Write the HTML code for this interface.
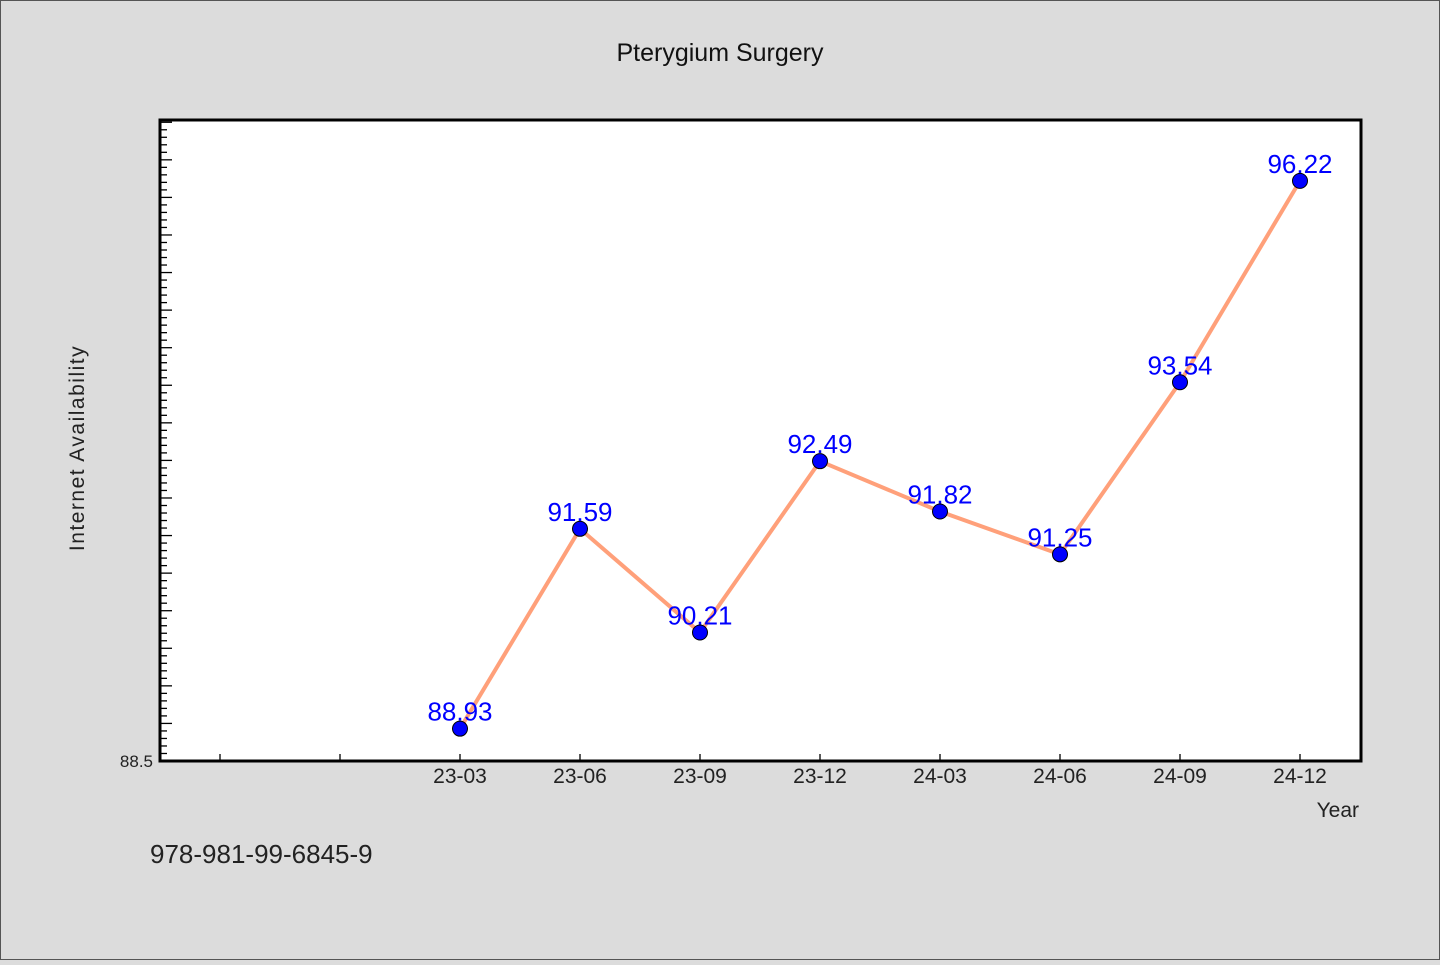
<!DOCTYPE html>
<html><head><meta charset="utf-8"><style>
body{margin:0;background:#dcdcdc}
svg text{font-family:"WenQuanYi Zen Hei","Liberation Sans",sans-serif}
</style></head><body>
<svg id="chart" width="1440" height="960" xmlns="http://www.w3.org/2000/svg">
<rect x="0.5" y="0.5" width="1439" height="959" fill="#dcdcdc" stroke="#555"/>
<text x="720" y="61" text-anchor="middle" font-size="25" fill="#111">Pterygium Surgery</text>
<rect x="160" y="120" width="1201" height="641" fill="#fff"/>
<g id="ticks"></g>
<g id="series"></g>
<rect x="160" y="120" width="1201" height="641" fill="none" stroke="#000" stroke-width="3"/>
<text x="84" y="448" text-anchor="middle" font-size="21" fill="#222" transform="rotate(-90 84 448)" letter-spacing="1.5">Internet Availability</text>
<text x="1359" y="817" text-anchor="end" font-size="21" fill="#222">Year</text>
<text x="150" y="863" font-size="26" fill="#222">978-981-99-6845-9</text>
</svg>
<script>
const categories=["","","23-03","23-06","23-09","23-12","24-03","24-06","24-09","24-12"];
const values=[null,null,88.93,91.59,90.21,92.49,91.82,91.25,93.54,96.22];
const yTickLabels=["88.5"];
const yMin=88.5,yMax=97.03;
const NS="http://www.w3.org/2000/svg";
const x=i=>220+120*i;
const y=v=>761-(v-yMin)/(yMax-yMin)*641;
function mk(t,a,p){const e=document.createElementNS(NS,t);for(const k in a)e.setAttribute(k,a[k]);p.appendChild(e);return e;}
const tg=document.getElementById('ticks'),sg=document.getElementById('series');
for(let k=1;k<=85;k++){const v=yMin+k*0.1;if(v>yMax)break;const yy=y(v);const major=k%5===0;
 const l=mk('line',{x1:160,x2:major?172:167,y1:yy,y2:yy,stroke:'#000','stroke-width':1.3},tg);
 
 }
yTickLabels.forEach(s=>{const t=mk('text',{x:153,y:y(+s)+6,'text-anchor':'end','font-size':17,fill:'#222'},tg);t.textContent=s;
 
 });
categories.forEach((c,i)=>{const l=mk('line',{x1:x(i),x2:x(i),y1:761,y2:754,stroke:'#000','stroke-width':1.3},tg);
 
 
 if(c){const t=mk('text',{x:x(i),y:783,'text-anchor':'middle','font-size':21,fill:'#222'},tg);t.textContent=c;
 
 }});
let pts=[];values.forEach((v,i)=>{if(v!=null)pts.push(x(i)+','+y(v));});
const pl=mk('polyline',{points:pts.join(' '),fill:'none',stroke:'#ffa07a','stroke-width':4},sg);


values.forEach((v,i)=>{if(v==null)return;
 const c=mk('circle',{cx:x(i),cy:y(v),r:7.5,fill:'#0000ff',stroke:'#000','stroke-width':1},sg);
 
 
 const t=mk('text',{x:x(i),y:y(v)-8,'text-anchor':'middle','font-size':26,fill:'#0000ff'},sg);t.textContent=v.toFixed(2);
 
 });
</script>
</body></html>
